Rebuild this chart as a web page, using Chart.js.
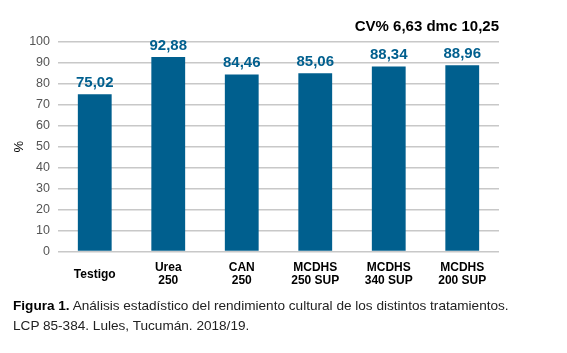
<!DOCTYPE html>
<html><head><meta charset="utf-8">
<script src="https://cdn.jsdelivr.net/npm/chart.js@4"></script>
<style>
html,body{margin:0;padding:0;background:#fff;width:567px;height:353px;overflow:hidden;font-family:"Liberation Sans",Arial,sans-serif;}
#wrap{position:absolute;left:0;top:0;width:567px;height:312px;}
#cap{position:absolute;left:13px;top:296px;font-size:13.6px;line-height:19.5px;color:#222;white-space:nowrap;}
#cap b{color:#000;}
</style></head><body>
<div id="wrap"><canvas id="c"></canvas></div>
<div id="cap"><b>Figura 1.</b> Análisis estadístico del rendimiento cultural de los distintos tratamientos.<br>LCP 85-384. Lules, Tucumán. 2018/19.</div>
<script>
const categories = [["Testigo"], ["Urea","250"], ["CAN","250"], ["MCDHS","250 SUP"], ["MCDHS","340 SUP"], ["MCDHS","200 SUP"]];
const values = [75.02, 92.88, 84.46, 85.06, 88.34, 88.96];
const valueLabels = ["75,02", "92,88", "84,46", "85,06", "88,34", "88,96"];
const yTicks = [0,10,20,30,40,50,60,70,80,90,100];
const statsText = "CV% 6,63 dmc 10,25";
const barColor = "#005f8e";

const labelPlugin = {
  id: 'vals',
  afterDatasetsDraw(chart) {
    const ctx = chart.ctx;
    const meta = chart.getDatasetMeta(0);
    ctx.save();
    ctx.font = 'bold 15px "Liberation Sans", Arial, sans-serif';
    ctx.fillStyle = barColor;
    ctx.textAlign = 'center';
    ctx.textBaseline = 'bottom';
    meta.data.forEach((bar, i) => {
      ctx.fillText(valueLabels[i], bar.x, bar.y - 4);
    });
    ctx.font = 'bold 15px "Liberation Sans", Arial, sans-serif';
    ctx.fillStyle = '#000';
    ctx.textAlign = 'right';
    ctx.textBaseline = 'middle';
    ctx.fillText(statsText, chart.chartArea.right, 27);
    ctx.restore();
  }
};

new Chart(document.getElementById('c'), {
  type: 'bar',
  data: {
    labels: categories,
    datasets: [{ data: values, backgroundColor: barColor, barPercentage: 0.92, categoryPercentage: 0.5 }]
  },
  options: {
    responsive: true, maintainAspectRatio: false, animation: false,
    layout: { padding: { left: 0, right: 68, top: 42, bottom: 10 } },
    plugins: { legend: { display: false }, tooltip: { enabled: false } },
    scales: {
      x: {
        grid: { display: false },
        border: { display: false },
        ticks: { color: '#000', font: { family: '"Liberation Sans", Arial, sans-serif', size: 12, weight: 'bold', lineHeight: 1.1 }, maxRotation: 0, minRotation: 0, crossAlign: 'center', padding: 8 }
      },
      y: {
        min: 0, max: 100,
        afterBuildTicks(axis) { axis.ticks = yTicks.map(v => ({ value: v })); },
        afterFit(axis) { axis.width = 58; },
        grid: { color: '#c8c8c8', lineWidth: 1.5, drawTicks: false },
        border: { display: false },
        ticks: { color: '#555', font: { family: '"Liberation Sans", Arial, sans-serif', size: 12.5 }, padding: 8 },
        title: { display: true, text: '%', color: '#000', font: { family: '"Liberation Sans", Arial, sans-serif', size: 13 }, padding: { top: 12, bottom: 4 } }
      }
    }
  },
  plugins: [labelPlugin]
});
</script>
</body></html>
